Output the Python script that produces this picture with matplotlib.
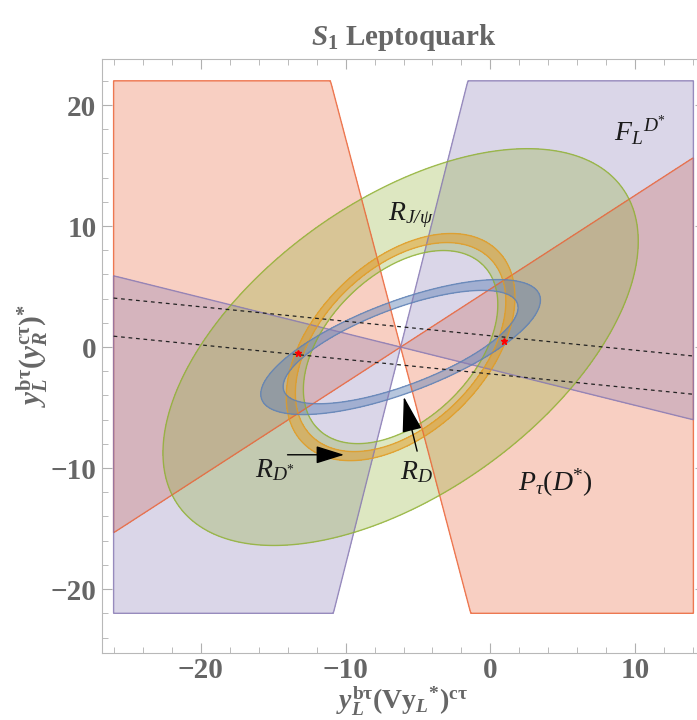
import numpy as np
import matplotlib.pyplot as plt
from matplotlib.ticker import MultipleLocator

plt.rcParams['font.family'] = ['Liberation Serif', 'DejaVu Serif']
plt.rcParams['mathtext.fontset'] = 'custom'
plt.rcParams['mathtext.rm'] = 'Liberation Serif:bold'
plt.rcParams['mathtext.it'] = 'Liberation Serif:italic:bold'
plt.rcParams['mathtext.bf'] = 'Liberation Serif:bold'
plt.rcParams['mathtext.sf'] = 'Liberation Serif:italic'
plt.rcParams['mathtext.tt'] = 'Liberation Serif'

# plotted box and common centre of all constraints
box_x = [-26.0, 14.0]
box_y = [-22.0, 22.0]
centre = [-6.2, 0.0]

# bowtie constraints: steep line (dx/dy), shallow line (dy/dx)
ptau_steep, ptau_shallow = -0.22, 0.775
fl_steep, fl_shallow = 0.211, -0.2975

# ellipses: semi-major, semi-minor, angle in degrees
rjpsi_ellipse = [20.3, 11.2, 45.0]
rjpsi_hole_scale = 0.85
rdstar_ellipse = [10.5, 6.33, 55.8]
rdstar_inner_scale = 0.92
rd_ellipse = [10.52, 3.67, 25.2]
rd_inner_scale = 0.84

# dashed lines, y at the two ends of the box
dash_x = [-26.0, 14.0]
dash1_y = [4.05, -0.74]
dash2_y = [0.9, -3.9]

# best fit points
star_x = [-13.3, 0.9]
star_y = [-0.5, 0.5]

c_ptau = '#EB6235'
c_fl = '#8778B3'
c_rjpsi = '#8FB032'
c_rdstar = '#E19C24'
c_rd = '#5E81B5'

xg = np.linspace(-27.5, 15.5, 1300)
yg = np.linspace(-23.5, 23.5, 1300)
X, Y = np.meshgrid(xg, yg)
U = X - centre[0]
V = Y - centre[1]

box = np.maximum(np.abs(X - np.mean(box_x)) - (box_x[1] - box_x[0]) / 2,
                 np.abs(Y - np.mean(box_y)) - (box_y[1] - box_y[0]) / 2)


def quad(ell):
    a, b, th = ell
    t = np.radians(th)
    up = U * np.cos(t) + V * np.sin(t)
    vp = -U * np.sin(t) + V * np.cos(t)
    return (up / a) ** 2 + (vp / b) ** 2


ptau_field = np.maximum((U - ptau_steep * V) * (V - ptau_shallow * U), box)
fl_field = np.maximum(-(U - fl_steep * V) * (V - fl_shallow * U), box)
q_rjpsi = quad(rjpsi_ellipse)
q_rdstar = quad(rdstar_ellipse)
q_rd = quad(rd_ellipse)
rjpsi_field = np.maximum(q_rjpsi - 1, rjpsi_hole_scale ** 2 - q_rdstar)
rdstar_field = np.maximum(q_rdstar - 1, rdstar_inner_scale ** 2 - q_rdstar)
rd_field = np.maximum(q_rd - 1, rd_inner_scale ** 2 - q_rd)

fig = plt.figure(figsize=(6.97, 7.2), dpi=100)
ax = fig.add_axes([102 / 697, 67 / 720, 603 / 697, 594.3 / 720])

fields = [(ptau_field, c_ptau, 0.3), (fl_field, c_fl, 0.3), (rjpsi_field, c_rjpsi, 0.3),
          (rdstar_field, c_rdstar, 0.5), (rd_field, c_rd, 0.45)]
for f, col, al in fields:
    ax.contourf(X, Y, f, levels=[-1e9, 0], colors=[col], alpha=al)
for f, col, al in fields:
    ax.contour(X, Y, f, levels=[0], colors=[col], linewidths=1.0, alpha=0.8)

ax.plot(dash_x, dash1_y, color='#222222', lw=0.9, ls=(0, (3, 3)))
ax.plot(dash_x, dash2_y, color='#222222', lw=0.9, ls=(0, (3, 3)))
ax.plot(star_x, star_y, ls='none', marker='*', color='red', markersize=5)

ax.annotate('', xy=(-10.1, -8.9), xytext=(-14.0, -8.9),
            arrowprops=dict(arrowstyle='-|>,head_length=0.8,head_width=0.25', color='black',
                            lw=1, mutation_scale=22, shrinkA=0, shrinkB=0))
ax.annotate('', xy=(-5.98, -4.1), xytext=(-5.06, -8.6),
            arrowprops=dict(arrowstyle='-|>,head_length=0.9,head_width=0.25', color='black',
                            lw=1, mutation_scale=25, shrinkA=0, shrinkB=0))

tcol = '#1a1a1a'
fs = 20
ax.text(-5.5, 10.9, r'$\mathsf{R}_{\mathsf{J/\psi}}$', fontsize=fs, color=tcol, ha='center', va='center')
ax.text(10.3, 17.9, r'$\mathsf{F}_{\mathsf{L}}{}^{\mathsf{D}^{\mathtt{*}}}$', fontsize=fs, color=tcol, ha='center', va='center')
ax.text(4.5, -11.2, r'$\mathsf{P}_{\mathsf{\tau}}\mathtt{(}\mathsf{D}^{\mathtt{*}}\mathtt{)}$', fontsize=fs, color=tcol, ha='center', va='center')
ax.text(-14.9, -10.2, r'$\mathsf{R}_{\mathsf{D}^{\mathtt{*}}}$', fontsize=fs, color=tcol, ha='center', va='center')
ax.text(-5.1, -10.3, r'$\mathsf{R}_{\mathsf{D}}$', fontsize=fs, color=tcol, ha='center', va='center')

ax.set_xlim(-26.8, 14.8)
ax.set_ylim(-25.28, 23.83)
ax.set_xticks([-20, -10, 0, 10])
ax.set_yticks([-20, -10, 0, 10, 20])
ax.xaxis.set_minor_locator(MultipleLocator(2))
ax.yaxis.set_minor_locator(MultipleLocator(2))
ax.tick_params(which='both', direction='in', top=True, right=True, color='#b0b0b0',
               labelsize=21, labelcolor='#666666')
ax.tick_params(axis='x', pad=3)
ax.tick_params(axis='y', pad=4)
ax.tick_params(which='major', length=7)
ax.tick_params(which='minor', length=4)
for lab in ax.get_xticklabels() + ax.get_yticklabels():
    lab.set_fontweight('bold')
for sp in ax.spines.values():
    sp.set_color('#b8b8b8')

ax.set_xlabel(r'$y_L^{\mathrm{b\tau}}(\mathrm{Vy}_L{}^{*})^{\mathrm{c\tau}}$', fontsize=20, color='#666666')
ax.xaxis.set_label_coords(0.497, -32 / 594.3)
ax.set_ylabel(r'$y_L^{\mathrm{b\tau}}(y_R^{\mathrm{c\tau}})^{*}$', fontsize=21, color='#666666', labelpad=0)
ax.set_title(r'$S_1$ Leptoquark', fontsize=21, fontweight='bold', color='#666666', pad=10)

fig.savefig('out.png', dpi=100)
